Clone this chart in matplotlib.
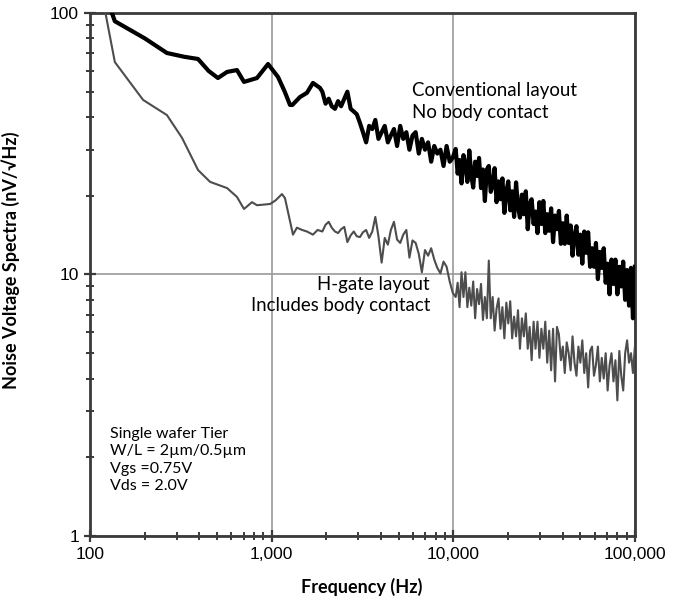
import matplotlib
matplotlib.use("Agg")
import matplotlib.pyplot as plt
from matplotlib.ticker import FixedLocator, FuncFormatter, NullFormatter

# smooth low-frequency parts
conv_low_freq = [132, 137, 200, 265, 330, 393, 450, 506, 568, 644, 704, 770, 830, 955,
                 1084, 1180, 1261, 1300, 1431, 1563, 1687, 1844]
conv_low_val = [100, 93, 80, 70.3, 68, 66.7, 60, 56.4, 59.5, 60.5, 54.5, 55.5, 56.4, 63.8,
                56.9, 50, 44.5, 44.5, 47.7, 49.5, 54.0, 51.7]

hgate_low_freq = [120, 137, 196, 265, 321, 393, 458, 568, 644, 704, 779, 830, 980, 1050,
                  1139, 1183, 1310, 1377, 1470, 1563, 1687, 1790]
hgate_low_val = [105, 64.9, 46.5, 40.7, 33.3, 25.1, 22.6, 21.4, 19.8, 17.8, 18.9, 18.4, 18.6, 19.2,
                 20.3, 19.6, 14.2, 15.1, 14.8, 14.6, 14.2, 14.8]

# noisy part, shared frequency points
noise_freq = [1900, 1980, 2060, 2140, 2230, 2320, 2410, 2510, 2610, 2720, 2830, 2940, 3060, 3180,
              3310, 3440, 3580, 3720, 3870, 4030, 4190, 4360, 4530, 4710, 4900, 5100, 5300, 5510,
              5730, 5960, 6200, 6450, 6710, 6980, 7260, 7550, 7850, 8160, 8490, 8830, 9180, 9550,
              9930,
              10300, 10560, 10820, 11090, 11370, 11650, 11940, 12240, 12550, 12860, 13180, 13510,
              13850, 14200, 14550, 14910, 15290, 15670, 16060, 16460, 16870, 17290, 17730, 18170,
              18620, 19090, 19570, 20060, 20560, 21070, 21600, 22140, 22690, 23260, 23840, 24440,
              25050, 25670, 26310, 26970, 27650, 28340, 29050, 29770, 30520, 31280, 32060, 32860,
              33690, 34530, 35390, 36280, 37180, 38110, 39070, 40040, 41040, 42070, 43120, 44200,
              45300, 46440, 47600, 48790, 50010, 51260, 52540, 53850, 55200, 56580, 57990, 59440,
              60930, 62450, 64010, 65610, 67250, 68930, 70660, 72420, 74230, 76090, 77990, 79940,
              81940, 83990, 86090, 88240, 90440, 92700, 95020, 97400, 99830]

conv_noise_val = [50, 45, 47, 44, 43, 46, 44, 47, 50, 43, 42, 41, 38, 35,
                  32, 37, 36, 39, 33, 35, 37, 32, 34, 36, 31, 37, 33, 35,
                  30, 34, 35, 29, 33, 30, 32, 27, 31, 29, 30, 26, 31, 27,
                  28,
                  30.2, 24.3, 27.4, 22.3, 28.6, 26.4, 22.6, 29.8, 24.0, 21.5, 27.0, 23.8,
                  27.9, 21.4, 25.2, 19.1, 25.2, 26.0, 20.7, 22.0, 25.5, 18.9, 22.7, 19.4,
                  23.3, 17.2, 20.8, 22.7, 17.6, 20.8, 16.6, 22.5, 18.1, 16.5, 20.2, 17.0,
                  20.8, 14.9, 18.6, 19.4, 15.6, 17.4, 14.4, 18.9, 15.6, 19.1, 14.4, 17.0,
                  14.7, 17.9, 13.3, 16.8, 14.9, 17.5, 13.1, 15.7, 13.1, 16.8, 13.2, 15.4,
                  11.8, 14.1, 15.3, 11.9, 14.2, 11.0, 14.6, 12.1, 14.5, 10.7, 12.6, 10.7,
                  13.2, 9.6, 12.2, 10.6, 12.6, 9.3, 11.0, 8.4, 11.4, 9.2, 11.4, 8.4,
                  10.7, 9.0, 11.2, 8.0, 10.4, 7.6, 10.6, 6.8, 10.7]

hgate_noise_val = [14.6, 15.5, 15.9, 15.1, 14.6, 14.4, 14.9, 15.2, 13.3, 14.1, 14.6, 14.0, 13.9, 14.5,
                   14.8, 13.8, 14.6, 16.6, 14.0, 11.1, 13.8, 13.0, 14.8, 15.9, 13.6, 13.2, 14.2, 14.8,
                   11.6, 13.5, 13.2, 12.0, 10.2, 12.4, 11.8, 12.6, 11.4, 10.6, 10.1, 11.2, 10.7, 9.4,
                   8.5,
                   8.2, 9.3, 7.5, 10.2, 8.2, 10.2, 7.5, 8.9, 7.6, 9.4, 6.8, 8.8,
                   7.7, 9.2, 6.7, 8.2, 6.8, 11.3, 6.8, 8.2, 6.1, 7.4, 8.1, 6.2,
                   7.5, 5.7, 7.8, 6.5, 7.9, 5.7, 6.9, 5.8, 7.3, 5.2, 6.8, 5.8,
                   7.1, 5.2, 6.3, 4.7, 6.6, 5.2, 6.6, 4.8, 6.2, 5.2, 6.6, 4.6,
                   6.1, 4.3, 6.2, 3.9, 6.3, 5.9, 4.7, 5.3, 4.2, 5.5, 5.0, 4.3,
                   5.8, 4.6, 4.1, 5.3, 4.6, 5.6, 4.2, 5.0, 3.7, 5.1, 5.3, 4.1,
                   4.5, 5.3, 3.9, 4.8, 4.0, 5.0, 3.6, 4.5, 5.0, 3.9, 4.7, 3.3,
                   5.1, 4.1, 3.6, 5.0, 5.6, 4.6, 5.0, 4.2, 5.3]

x_major = [100, 1000, 10000, 100000]
y_major = [1, 10, 100]

conv_freq = conv_low_freq + noise_freq
conv_val = conv_low_val + conv_noise_val
hgate_freq = hgate_low_freq + noise_freq
hgate_val = hgate_low_val + hgate_noise_val

fig = plt.figure(figsize=(6.84, 5.98), dpi=100)
ax = fig.add_axes([0.1316, 0.1037, 0.7968, 0.8746])

ax.plot(hgate_freq, hgate_val, color='#4d4d4d', lw=1.5, zorder=3)
ax.plot(conv_freq, conv_val, color='black', lw=3, zorder=4)

ax.set_xscale('log')
ax.set_yscale('log')
ax.set_xlim(100, 100000)
ax.set_ylim(1, 100)

ax.xaxis.set_major_locator(FixedLocator(x_major))
ax.yaxis.set_major_locator(FixedLocator(y_major))
ax.xaxis.set_minor_locator(FixedLocator([m * d for d in x_major[:-1] for m in range(2, 10)]))
ax.yaxis.set_minor_locator(FixedLocator([m * d for d in y_major[:-1] for m in range(2, 10)]))
ax.xaxis.set_major_formatter(FuncFormatter(lambda v, p: f'{int(v):,}'))
ax.yaxis.set_major_formatter(FuncFormatter(lambda v, p: f'{int(v)}'))
ax.xaxis.set_minor_formatter(NullFormatter())
ax.yaxis.set_minor_formatter(NullFormatter())

ax.grid(True, which='major', color='#9a9a9a', lw=1.2)
ax.set_axisbelow(True)
for s in ax.spines.values():
    s.set_color('#3a3a3a')
    s.set_linewidth(2)
ax.tick_params(which='major', direction='inout', length=8, width=1.6, color='#3a3a3a',
               labelsize=12.5, pad=4)
ax.tick_params(which='minor', direction='inout', length=6, width=1.4, color='#3a3a3a')
for lab in ax.get_xticklabels() + ax.get_yticklabels():
    lab.set_family('Liberation Sans')

ax.set_xlabel('Frequency (Hz)', fontsize=13, fontweight='bold', family='Lato')
ax.set_ylabel('Noise Voltage Spectra (nV/√Hz)', fontsize=13, fontweight='bold', family='Lato')
ax.xaxis.set_label_coords(0.499, -0.08)
ax.yaxis.set_label_coords(-0.128, 0.528)

ax.text(5900, 46, 'Conventional layout\nNo body contact', fontsize=13.4, family='Lato',
        ha='left', va='center', linespacing=1.35)
ax.text(7430, 8.35, 'H-gate layout\nIncludes body contact', fontsize=13.4, family='Lato',
        ha='right', va='center', multialignment='right', linespacing=1.3)
ax.text(129, 1.95, 'Single wafer Tier\nW/L = 2µm/0.5µm\nVgs =0.75V\nVds = 2.0V', fontsize=11.5,
        family='Lato', ha='left', va='center', linespacing=1.3)

fig.savefig('out.png', dpi=100)
